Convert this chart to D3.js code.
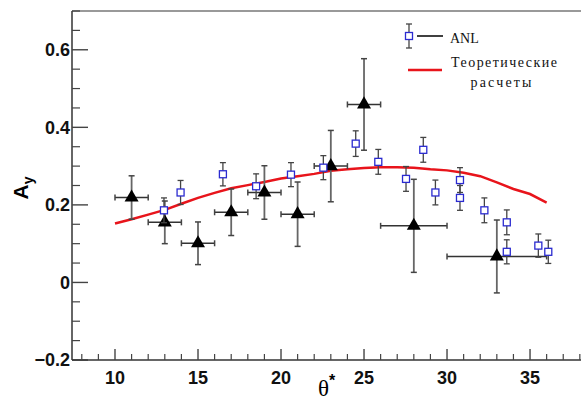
<!doctype html>
<html lang="ru">
<head>
  <meta charset="utf-8">
  <style>
    body { margin: 0; background: #fff; }
    .tick-label { font: bold 18px "Liberation Sans", Arial, sans-serif; fill: #111; }
    .legend-text { font: 14px "Liberation Serif", "Times New Roman", serif; fill: #111; }
  </style>
  <script src="https://d3js.org/d3.v7.min.js"></script>
</head>
<body>
  <script>
    // ANL data (open blue squares)
    const anlTheta = [12.95, 13.95, 16.5, 18.5, 20.6, 22.55, 24.5, 25.86, 27.53, 28.57, 29.3, 30.78, 30.78, 32.25, 33.6, 33.6, 35.5, 36.1];
    const anlAy    = [0.186, 0.232, 0.279, 0.248, 0.278, 0.296, 0.358, 0.311, 0.267, 0.342, 0.232, 0.264, 0.218, 0.186, 0.155, 0.079, 0.095, 0.079];
    const anlErr   = [0.032, 0.031, 0.030, 0.032, 0.031, 0.031, 0.033, 0.032, 0.032, 0.032, 0.032, 0.032, 0.032, 0.032, 0.032, 0.031, 0.030, 0.030];

    // this experiment (black triangles)
    const triTheta = [11, 13, 15, 17, 19, 21, 23, 25, 28, 33];
    const triAy    = [0.219, 0.155, 0.101, 0.181, 0.232, 0.176, 0.300, 0.459, 0.146, 0.067];
    const triDx    = [1, 1, 1, 1, 1, 1, 1, 1, 2, 3];
    const triDy    = [0.056, 0.055, 0.055, 0.060, 0.069, 0.083, 0.092, 0.118, 0.120, 0.094];

    // theoretical curve (red)
    const theoTheta = [10, 11, 12, 13, 14, 15, 16, 17, 18, 19, 20, 21, 22, 23, 24, 25, 26, 27, 28, 29, 30, 31, 32, 33, 34, 35, 36];
    const theoAy    = [0.152, 0.163, 0.175, 0.187, 0.203, 0.218, 0.231, 0.243, 0.251, 0.259, 0.268, 0.274, 0.280, 0.288, 0.292, 0.295, 0.297, 0.297, 0.296, 0.292, 0.289, 0.283, 0.274, 0.258, 0.241, 0.228, 0.206];

    const xTicks = [10, 15, 20, 25, 30, 35];
    const yTicks = [-0.2, 0, 0.2, 0.4, 0.6];
    const legendLabels = ["ANL", "Теоретические", "расчеты"];

    const W = 581, H = 401;
    const margin = { top: 11, right: 0, bottom: 41, left: 72 };

    const svg = d3.select("body").append("svg")
      .attr("width", W)
      .attr("height", H);

    const x = d3.scaleLinear().domain([7.41, 38.07]).range([margin.left, W - margin.right]);
    const y = d3.scaleLinear().domain([-0.2, 0.7]).range([H - margin.bottom, margin.top]);

    const x0 = margin.left, y0 = H - margin.bottom;

    // top frame
    svg.append("line")
      .attr("x1", x0).attr("x2", W).attr("y1", margin.top).attr("y2", margin.top)
      .attr("stroke", "#777").attr("stroke-width", 1.5);

    // y axis with inward ticks
    svg.append("line")
      .attr("x1", x0).attr("x2", x0).attr("y1", margin.top).attr("y2", y0)
      .attr("stroke", "#333").attr("stroke-width", 1.5);
    const yMinor = d3.range(-0.2, 0.7001, 0.05).filter(v => !yTicks.some(t => Math.abs(t - v) < 1e-6));
    svg.append("g").selectAll("line").data(yMinor).join("line")
      .attr("x1", x0).attr("x2", x0 + 8)
      .attr("y1", d => y(d)).attr("y2", d => y(d))
      .attr("stroke", "#444").attr("stroke-width", 1.2);
    svg.append("g").selectAll("line").data(yTicks).join("line")
      .attr("x1", x0).attr("x2", x0 + 16)
      .attr("y1", d => y(d)).attr("y2", d => y(d))
      .attr("stroke", "#444").attr("stroke-width", 1.4);
    svg.append("g").selectAll("text").data(yTicks).join("text")
      .attr("class", "tick-label")
      .attr("x", x0 - 2).attr("y", d => y(d))
      .attr("text-anchor", "end").attr("dy", "0.36em")
      .text(d => d3.format("")(Math.round(d * 10) / 10));

    // x axis with upward ticks
    svg.append("line")
      .attr("x1", x0).attr("x2", W).attr("y1", y0).attr("y2", y0)
      .attr("stroke", "#333").attr("stroke-width", 1.5);
    const xMinor = d3.range(8, 39, 1).filter(v => !xTicks.includes(v));
    svg.append("g").selectAll("line").data(xMinor).join("line")
      .attr("x1", d => x(d)).attr("x2", d => x(d))
      .attr("y1", y0).attr("y2", y0 - 6)
      .attr("stroke", "#444").attr("stroke-width", 1.2);
    svg.append("g").selectAll("line").data(xTicks).join("line")
      .attr("x1", d => x(d)).attr("x2", d => x(d))
      .attr("y1", y0).attr("y2", y0 - 11)
      .attr("stroke", "#444").attr("stroke-width", 1.4);
    svg.append("g").selectAll("text").data(xTicks).join("text")
      .attr("class", "tick-label")
      .attr("x", d => x(d)).attr("y", y0 + 24)
      .attr("text-anchor", "middle")
      .text(d => d);

    // axis titles
    const yt = svg.append("text")
      .attr("transform", "translate(28,188) rotate(-90)")
      .attr("text-anchor", "middle")
      .style("font", "bold 21px 'Liberation Sans', Arial, sans-serif");
    yt.append("tspan").text("A");
    yt.append("tspan").attr("dy", 5).style("font-size", "14px").text("y");

    const xt = svg.append("text")
      .attr("x", 318).attr("y", 396);
    xt.append("tspan").style("font", "23px 'Liberation Serif', 'Times New Roman', serif").text("θ");
    xt.append("tspan").attr("dy", -10).style("font", "bold 16px 'Liberation Sans', Arial, sans-serif").text("*");

    // theoretical curve
    const theo = theoTheta.map((t, i) => ({ t, a: theoAy[i] }));
    svg.append("path")
      .datum(theo)
      .attr("fill", "none")
      .attr("stroke", "#e8141b")
      .attr("stroke-width", 2.5)
      .attr("d", d3.line().x(d => x(d.t)).y(d => y(d.a)));

    // triangles with error bars
    const tri = triTheta.map((t, i) => ({ t, a: triAy[i], dx: triDx[i], dy: triDy[i] }));
    const tg = svg.append("g");
    tri.forEach(d => {
      const cx = x(d.t), cy = y(d.a);
      const yl = y(d.a - d.dy), yh = y(d.a + d.dy);
      const xl = x(d.t - d.dx), xh = x(d.t + d.dx);
      tg.append("line").attr("x1", cx).attr("x2", cx).attr("y1", yl).attr("y2", yh)
        .attr("stroke", "#666").attr("stroke-width", 1.8);
      tg.append("line").attr("x1", xl).attr("x2", xh).attr("y1", cy).attr("y2", cy)
        .attr("stroke", "#333").attr("stroke-width", 1.5);
      [yl, yh].forEach(v => tg.append("line").attr("x1", cx - 3).attr("x2", cx + 3).attr("y1", v).attr("y2", v)
        .attr("stroke", "#444").attr("stroke-width", 1.5));
      [xl, xh].forEach(v => tg.append("line").attr("x1", v).attr("x2", v).attr("y1", cy - 3).attr("y2", cy + 3)
        .attr("stroke", "#444").attr("stroke-width", 1.5));
    });
    tg.selectAll("path").data(tri).join("path")
      .attr("d", d3.symbol(d3.symbolTriangle, 85))
      .attr("transform", d => `translate(${x(d.t)},${y(d.a)})`)
      .attr("fill", "#000");

    // ANL squares with error bars
    const anl = anlTheta.map((t, i) => ({ t, a: anlAy[i], e: anlErr[i] }));
    const ag = svg.append("g");
    anl.forEach(d => {
      const cx = x(d.t);
      const yl = y(d.a - d.e), yh = y(d.a + d.e);
      ag.append("line").attr("x1", cx).attr("x2", cx).attr("y1", yl).attr("y2", yh)
        .attr("stroke", "#444").attr("stroke-width", 1.3);
      [yl, yh].forEach(v => ag.append("line").attr("x1", cx - 3).attr("x2", cx + 3).attr("y1", v).attr("y2", v)
        .attr("stroke", "#444").attr("stroke-width", 1.3));
    });
    ag.selectAll("rect").data(anl).join("rect")
      .attr("x", d => x(d.t) - 3.5).attr("y", d => y(d.a) - 3.5)
      .attr("width", 7).attr("height", 7)
      .attr("fill", "#fff").attr("stroke", "#2b2bd0").attr("stroke-width", 1.3);

    // legend
    const lg = svg.append("g");
    lg.append("line").attr("x1", 409).attr("x2", 409).attr("y1", 24).attr("y2", 48)
      .attr("stroke", "#444").attr("stroke-width", 1.3);
    [24, 48].forEach(v => lg.append("line").attr("x1", 406).attr("x2", 412).attr("y1", v).attr("y2", v)
      .attr("stroke", "#444").attr("stroke-width", 1.3));
    lg.append("rect").attr("x", 405.5).attr("y", 32.5).attr("width", 7).attr("height", 7)
      .attr("fill", "#fff").attr("stroke", "#2b2bd0").attr("stroke-width", 1.3);
    lg.append("line").attr("x1", 417).attr("x2", 443).attr("y1", 36).attr("y2", 36)
      .attr("stroke", "#000").attr("stroke-width", 1.5);
    lg.append("text").attr("class", "legend-text").attr("x", 450).attr("y", 43).text(legendLabels[0]);
    lg.append("line").attr("x1", 408).attr("x2", 442).attr("y1", 70).attr("y2", 70)
      .attr("stroke", "#e8141b").attr("stroke-width", 2.5);
    lg.append("text").attr("class", "legend-text").attr("x", 451).attr("y", 67)
      .attr("textLength", 106).text(legendLabels[1]);
    lg.append("text").attr("class", "legend-text").attr("x", 501).attr("y", 87)
      .attr("text-anchor", "middle").attr("textLength", 61).text(legendLabels[2]);
  </script>
</body>
</html>
